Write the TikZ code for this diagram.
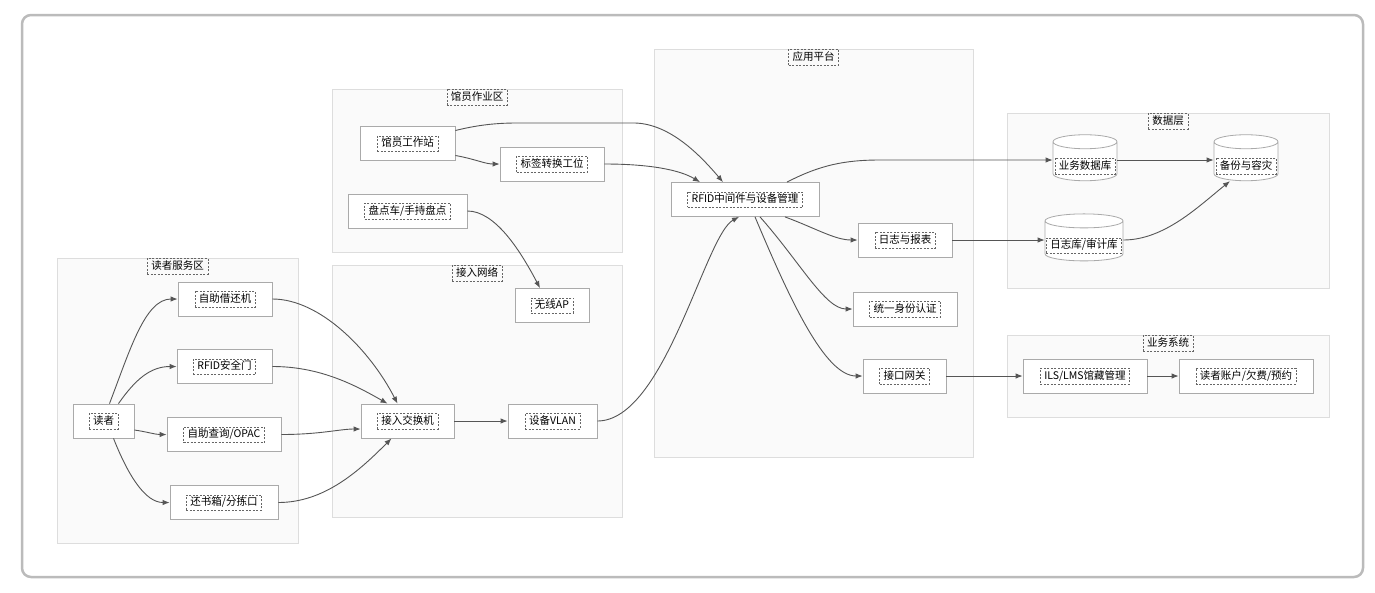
\documentclass[tikz,border=0pt]{standalone}
\usepackage{fontspec}
\setmainfont{Noto Sans CJK SC}
\usetikzlibrary{arrows.meta,shapes.geometric}
\definecolor{framegray}{HTML}{BBBBBB}
\definecolor{zonefill}{HTML}{FAFAFA}
\definecolor{zoneline}{HTML}{DDDDDD}
\definecolor{boxline}{HTML}{AAAAAA}
\definecolor{edgegray}{HTML}{555555}
\definecolor{taggray}{HTML}{666666}
\begin{document}
\begin{tikzpicture}[x=1pt,y=-1pt,font=\fontsize{10.5}{12}\selectfont,
    zone/.style={fill=zonefill,draw=zoneline,line width=.8pt},
    tag/.style={draw=taggray,dash pattern=on 2pt off 1.5pt,line width=.5pt,inner xsep=4pt,inner ysep=2pt,text height=9pt,text depth=2.5pt},
    box/.style={draw=boxline,fill=white,line width=.8pt,minimum height=34pt},
    db/.style={cylinder,shape border rotate=90,aspect=2.1,draw=boxline,fill=white,line width=.8pt,minimum width=64pt,minimum height=46pt},
    edge/.style={draw=edgegray,line width=.9pt,-{Latex[length=7pt,width=5.5pt]}}]
    \useasboundingbox (0,0) rectangle (1375,592);
    \draw[framegray,line width=2.5pt,rounded corners=9pt] (22,15) rectangle (1363,577);
    \draw[zone] (57,258) rectangle (298,543);
    \draw[zone] (332,89) rectangle (622,252);
    \draw[zone] (332,265) rectangle (622,517);
    \draw[zone] (654,49) rectangle (973,457);
    \draw[zone] (1007,113) rectangle (1329,288);
    \draw[zone] (1007,335) rectangle (1329,417);
    \node[tag,anchor=north] (readerzone) at (177.5,258) {读者服务区};
    \node[tag,anchor=north] (staffzone) at (477,89) {馆员作业区};
    \node[tag,anchor=north] (netzone) at (477,265) {接入网络};
    \node[tag,anchor=north] (appzone) at (813.5,49) {应用平台};
    \node[tag,anchor=north] (datazone) at (1168,113) {数据层};
    \node[tag,anchor=north] (bizzone) at (1168,335) {业务系统};

    \node[box,minimum width=61pt,label={[tag]center:读者}] (reader) at (103.5,421) {};
    \node[box,minimum width=94pt,label={[tag]center:自助借还机}] (kiosk) at (225,299) {};
    \node[box,minimum width=95pt,label={[tag]center:RFID安全门}] (gate) at (224.5,366.5) {};
    \node[box,minimum width=114pt,label={[tag]center:自助查询/OPAC}] (opac) at (224,434.5) {};
    \node[box,minimum width=108pt,label={[tag]center:还书箱/分拣口}] (dropbox) at (224,502.5) {};
    \node[box,minimum width=95pt,label={[tag]center:馆员工作站}] (staff) at (407.5,143.5) {};
    \node[box,minimum width=104pt,label={[tag]center:标签转换工位}] (tagst) at (552,164) {};
    \node[box,minimum width=119pt,label={[tag]center:盘点车/手持盘点}] (inventory) at (407.5,211) {};
    \node[box,minimum width=74pt,label={[tag]center:无线AP}] (ap) at (552,305.5) {};
    \node[box,minimum width=93pt,label={[tag]center:接入交换机}] (switch) at (407.5,421) {};
    \node[box,minimum width=89pt,label={[tag]center:设备VLAN}] (vlan) at (552.5,421) {};
    \node[box,minimum width=148pt,label={[tag]center:RFID中间件与设备管理}] (mw) at (745,199.5) {};
    \node[box,minimum width=94pt,label={[tag]center:日志与报表}] (logrep) at (905,240) {};
    \node[box,minimum width=104pt,label={[tag]center:统一身份认证}] (auth) at (905,309) {};
    \node[box,minimum width=83pt,label={[tag]center:接口网关}] (gateway) at (904.5,376) {};
    \node[db,label={[tag,yshift=-3pt]center:业务数据库}] (bizdb) at (1085,163) {};
    \node[db,label={[tag,yshift=-3pt]center:备份与容灾}] (backup) at (1246,163) {};
    \node[db,minimum width=78pt,minimum height=47pt,label={[tag,yshift=-3pt]center:日志库/审计库}] (logdb) at (1084,242.5) {};
    \node[box,minimum width=124pt,label={[tag]center:ILS/LMS馆藏管理}] (ils) at (1085,376) {};
    \node[box,minimum width=134pt,label={[tag]center:读者账户/欠费/预约}] (account) at (1246,376) {};

    \draw[edge] ([xshift=6pt]reader.north) .. controls (130,350) and (145,299) .. (kiosk.west);
    \draw[edge] ([xshift=15pt]reader.north) .. controls (135,380) and (150,366.5) .. (gate.west);
    \draw[edge] ([yshift=-9pt]reader.east) .. controls (148,432) and (155,434.5) .. (opac.west);
    \draw[edge] ([xshift=10pt]reader.south) .. controls (128,475) and (145,502.5) .. (dropbox.west);
    \draw[edge] (kiosk.east) .. controls (320,299) and (370,350) .. ([xshift=-10pt]switch.north);
    \draw[edge] (gate.east) .. controls (320,366.5) and (355,385) .. ([xshift=-20pt]switch.north);
    \draw[edge] (opac.east) .. controls (320,434.5) and (340,429) .. ([yshift=-8pt]switch.west);
    \draw[edge] (dropbox.east) .. controls (325,502.5) and (360,470) .. ([xshift=-16pt]switch.south);
    \draw[edge] ([yshift=13pt]staff.east) .. controls (490,122) and (510,123) .. (535,123) -- (635,123) .. controls (670,124) and (700,155) .. ([xshift=-22pt]mw.north);
    \draw[edge] ([yshift=-12pt]staff.east) .. controls (475,159) and (485,164) .. (tagst.west);
    \draw[edge] (tagst.east) .. controls (650,164) and (680,170) .. ([xshift=-45pt]mw.north);
    \draw[edge] (inventory.east) .. controls (495,211) and (520,250) .. ([xshift=-12pt]ap.north);
    \draw[edge] (switch.east) -- (vlan.west);
    \draw[edge] (vlan.east) .. controls (665,421) and (705,235) .. ([xshift=-6pt]mw.south);
    \draw[edge] ([xshift=42pt]mw.north) .. controls (820,165) and (845,160) .. (880,160) -- ([yshift=3pt]bizdb.west);
    \draw[edge] ([xshift=40pt]mw.south) .. controls (815,228) and (835,240) .. (logrep.west);
    \draw[edge] ([xshift=15pt]mw.south) .. controls (800,262) and (825,309) .. (auth.west);
    \draw[edge] ([xshift=10pt]mw.south) .. controls (790,300) and (825,376) .. (gateway.west);
    \draw[edge] (logrep.east) -- ([yshift=2.5pt]logdb.west);
    \draw[edge] ([yshift=3pt]bizdb.east) -- ([yshift=3pt]backup.west);
    \draw[edge] ([yshift=2.5pt]logdb.east) .. controls (1165,240) and (1200,205) .. ([xshift=-16pt]backup.south);
    \draw[edge] (gateway.east) -- (ils.west);
    \draw[edge] (ils.east) -- (account.west);
\end{tikzpicture}
\end{document}
